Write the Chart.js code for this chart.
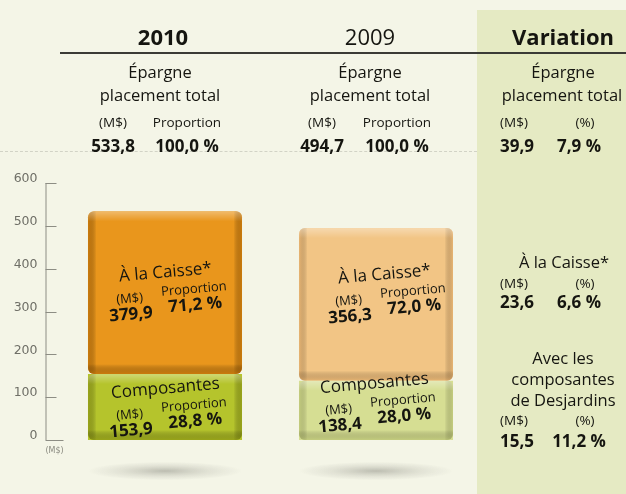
<!DOCTYPE html>
<html><head><meta charset="utf-8">
<script src="https://cdn.jsdelivr.net/npm/chart.js@4/dist/chart.umd.min.js"></script>
<style>
html,body{margin:0;padding:0;}
body{width:626px;height:494px;overflow:hidden;position:relative;background:#f4f5e7;font-family:"Open Sans",sans-serif;color:#151510;}
.abs{position:absolute;}
.varpanel{left:477px;top:10px;width:149px;height:484px;background:#e5eac3;}
.hline{left:60px;top:52px;width:566px;height:2px;background:#3b3b36;}
.dash{left:0;top:151px;width:477px;height:0;border-top:1px dashed #d2d3c6;}
.t{position:absolute;transform:translate(-50%,-50%);white-space:nowrap;line-height:1.15;text-align:center;}
.title{font-size:22px;}
.sub{font-size:16.5px;}
.small{font-size:13.5px;}
.num{font-size:17px;font-weight:700;}
canvas{position:absolute;left:0;top:0;}
.axunit{font-family:"DejaVu Sans",sans-serif;font-size:8px;color:#8a8a80;}
.bl{position:absolute;transform:translate(-50%,-50%) rotate(-5deg);white-space:nowrap;text-align:center;line-height:1.05;color:#151510;}
.bl .bt{font-size:17px;}
.bl .brow{display:flex;justify-content:center;gap:10px;margin-top:4px;}
.bl .bc{display:flex;flex-direction:column;align-items:center;}
.bl .bs{font-size:13px;}
.bl .bn{font-size:17px;font-weight:700;}
.bl .bc.first{margin-top:4px;}
</style></head>
<body>
<div class="abs varpanel"></div>
<div class="abs dash"></div>
<div class="abs hline"></div>
<canvas id="c" width="626" height="494"></canvas>
<div id="texts"></div>
<script>
// ---- data ----
const categories = ['2010', '2009'];
const composantesValues = [153.9, 138.4];
const caisseValues = [379.9, 356.3];
const totalValues = [533.8, 494.7];
const caisseShare = [71.2, 72.0];
const composantesShare = [28.8, 28.0];
const totalShare = [100.0, 100.0];
const yTickValues = [0, 100, 200, 300, 400, 500, 600];
const variationTotal = [39.9, 7.9];
const variationCaisse = [23.6, 6.6];
const variationComposantes = [15.5, 11.2];

const fmt = v => v.toFixed(1).replace('.', ',');
const pct = v => fmt(v) + ' %';

const texts = document.getElementById('texts');
function addText(str, cls, x, y) {
  const d = document.createElement('div');
  d.className = 't ' + cls;
  d.style.left = x + 'px';
  d.style.top = y + 'px';
  d.textContent = str;
  texts.appendChild(d);
  return d;
}

// header
const t1 = addText(categories[0], 'title', 163, 37); t1.style.fontWeight = '700';
addText(categories[1], 'title', 370, 37);
const t3 = addText('Variation', 'title', 563, 37); t3.style.fontWeight = '700';

const colCenters = [160, 370];
const colSub = [[113, 187], [322, 397]];
for (let i = 0; i < 2; i++) {
  addText('Épargne', 'sub', colCenters[i], 72);
  addText('placement total', 'sub', colCenters[i], 95);
  addText('(M$)', 'small', colSub[i][0], 123);
  addText('Proportion', 'small', colSub[i][1], 123);
  addText(fmt(totalValues[i]), 'num', colSub[i][0], 146);
  addText(pct(totalShare[i]), 'num', colSub[i][1], 146);
}
// variation column
addText('Épargne', 'sub', 563, 72);
addText('placement total', 'sub', 562, 95);
addText('(M$)', 'small', 514, 123);
addText('(%)', 'small', 585, 123);
addText(fmt(variationTotal[0]), 'num', 517, 146);
addText(pct(variationTotal[1]), 'num', 579, 146);

addText('À la Caisse*', 'sub', 564, 262);
addText('(M$)', 'small', 514, 284);
addText('(%)', 'small', 585, 284);
addText(fmt(variationCaisse[0]), 'num', 517, 302);
addText(pct(variationCaisse[1]), 'num', 579, 302);

addText('Avec les', 'sub', 563, 358);
addText('composantes', 'sub', 563, 379);
addText('de Desjardins', 'sub', 563, 400);
addText('(M$)', 'small', 514, 421);
addText('(%)', 'small', 585, 421);
addText(fmt(variationComposantes[0]), 'num', 517, 441);
addText(pct(variationComposantes[1]), 'num', 579, 441);

// ---- plugins ----
function rr(ctx, x, y, w, h, r) {
  ctx.beginPath();
  ctx.moveTo(x + r, y);
  ctx.arcTo(x + w, y, x + w, y + h, r);
  ctx.arcTo(x + w, y + h, x, y + h, r);
  ctx.arcTo(x, y + h, x, y, r);
  ctx.arcTo(x, y, x + w, y, r);
  ctx.closePath();
}

const shadowPlugin = {
  id: 'shadows',
  beforeDatasetsDraw(chart) {
    const ctx = chart.ctx;
    const meta = chart.getDatasetMeta(0);
    meta.data.forEach(el => {
      const p = el.getProps(['x', 'base', 'width'], true);
      const cy = p.base + 31;
      ctx.save();
      ctx.translate(p.x, cy);
      ctx.scale(1, 0.12);
      const g = ctx.createRadialGradient(0, 0, 0, 0, 0, p.width * 0.5);
      g.addColorStop(0, 'rgba(120,120,110,0.45)');
      g.addColorStop(0.6, 'rgba(150,150,140,0.18)');
      g.addColorStop(1, 'rgba(150,150,140,0)');
      ctx.fillStyle = g;
      ctx.beginPath();
      ctx.arc(0, 0, p.width * 0.5, 0, Math.PI * 2);
      ctx.fill();
      ctx.restore();
    });
  }
};

const bevelPlugin = {
  id: 'bevel',
  afterDatasetsDraw(chart) {
    const ctx = chart.ctx;
    chart.data.datasets.forEach((ds, di) => {
      const meta = chart.getDatasetMeta(di);
      meta.data.forEach((el, j) => {
        const p = el.getProps(['x', 'y', 'base', 'width'], true);
        const left = p.x - p.width / 2, w = p.width;
        const top = Math.min(p.y, p.base), h = Math.abs(p.base - p.y);
        const dark = ds.edgeColor[j];
        const e = 10;
        ctx.save();
        rr(ctx, left, top, w, h, 6);
        ctx.clip();
        // left edge
        let g = ctx.createLinearGradient(left, 0, left + e, 0);
        g.addColorStop(0, dark); g.addColorStop(0.85, 'rgba(0,0,0,0)');
        ctx.fillStyle = g; ctx.fillRect(left, top, e, h);
        // right edge
        g = ctx.createLinearGradient(left + w, 0, left + w - e, 0);
        g.addColorStop(0, dark); g.addColorStop(0.85, 'rgba(0,0,0,0)');
        ctx.fillStyle = g; ctx.fillRect(left + w - e, top, e, h);
        // bottom edge
        g = ctx.createLinearGradient(0, top + h, 0, top + h - e);
        g.addColorStop(0, dark); g.addColorStop(1, 'rgba(0,0,0,0)');
        ctx.fillStyle = g; ctx.fillRect(left, top + h - e, w, e);
        // top highlight
        g = ctx.createLinearGradient(0, top, 0, top + e);
        g.addColorStop(0, 'rgba(255,255,255,0.35)'); g.addColorStop(1, 'rgba(255,255,255,0)');
        ctx.fillStyle = g; ctx.fillRect(left, top, w, e);
        ctx.restore();
      });
    });
  }
};

const axisPlugin = {
  id: 'axisDeco',
  afterDraw(chart) {
    const ctx = chart.ctx;
    const y = chart.scales.y;
    const ax = chart.chartArea.left - 14;
    ctx.save();
    ctx.strokeStyle = '#8d8d84';
    ctx.lineWidth = 1;
    ctx.beginPath();
    ctx.moveTo(ax + 0.5, y.getPixelForValue(yTickValues[yTickValues.length - 1]));
    ctx.lineTo(ax + 0.5, y.getPixelForValue(0));
    yTickValues.forEach(v => {
      const py = Math.round(y.getPixelForValue(v)) + 0.5;
      ctx.moveTo(ax, py);
      ctx.lineTo(ax + (v === 0 ? 18 : 11), py);
    });
    ctx.stroke();
    ctx.restore();
  }
};

const chart = new Chart(document.getElementById('c'), {
  type: 'bar',
  data: {
    labels: categories,
    datasets: [
      {
        label: 'Composantes',
        data: composantesValues,
        backgroundColor: ['#b5c42c', '#d6de93'],
        edgeColor: ['rgba(130,140,10,0.55)', 'rgba(175,185,100,0.45)'],
        borderRadius: 6,
        borderSkipped: false,
        barPercentage: 0.73,
        categoryPercentage: 1
      },
      {
        label: 'À la Caisse*',
        data: caisseValues,
        backgroundColor: ['#e9961c', '#f2c585'],
        edgeColor: ['rgba(185,105,0,0.6)', 'rgba(225,165,95,0.5)'],
        borderRadius: 6,
        borderSkipped: false,
        barPercentage: 0.73,
        categoryPercentage: 1
      }
    ]
  },
  options: {
    responsive: false,
    animation: false,
    devicePixelRatio: 1,
    layout: { padding: { top: 183, bottom: 54, left: 0, right: 144.5 } },
    plugins: { legend: { display: false }, tooltip: { enabled: false } },
    scales: {
      x: { display: false, stacked: true },
      y: {
        stacked: true,
        min: 0,
        max: 600,
        afterBuildTicks: s => { s.ticks = yTickValues.map(v => ({ value: v })); },
        afterFit: s => { s.width = 59.5; },
        grid: { display: false, drawTicks: false },
        border: { display: false },
        ticks: {
          padding: 22,
          labelOffset: -4,
          color: '#6f6f67',
          font: { family: 'DejaVu Sans', size: 12.5 }
        }
      }
    }
  },
  plugins: [shadowPlugin, bevelPlugin, axisPlugin]
});

// unit label under the axis
const yScale = chart.scales.y;
addText('(M$)', 'axunit', chart.chartArea.left - 5, yScale.getPixelForValue(0) + 11);

// labels inside the bars, placed from the bar elements
const barLabelOffsets = [[[2, 0], [0, -8]], [[2, -2], [10, -11]]];
function barLabel(di, j, title, val, share) {
  const el = chart.getDatasetMeta(di).data[j];
  const p = el.getProps(['x', 'y', 'base'], true);
  const off = barLabelOffsets[di][j];
  const d = document.createElement('div');
  d.className = 'bl';
  d.style.left = (p.x + off[0]) + 'px';
  d.style.top = ((p.y + p.base) / 2 + off[1]) + 'px';
  d.innerHTML = '<div class="bt"></div><div class="brow"><div class="bc first"><div class="bs">(M$)</div><div class="bn"></div></div><div class="bc"><div class="bs">Proportion</div><div class="bn"></div></div></div>';
  d.querySelector('.bt').textContent = title;
  const nums = d.querySelectorAll('.bn');
  nums[0].textContent = fmt(val);
  nums[1].textContent = pct(share);
  texts.appendChild(d);
}
for (let j = 0; j < categories.length; j++) {
  barLabel(1, j, 'À la Caisse*', caisseValues[j], caisseShare[j]);
  barLabel(0, j, 'Composantes', composantesValues[j], composantesShare[j]);
}
</script>
</body></html>
